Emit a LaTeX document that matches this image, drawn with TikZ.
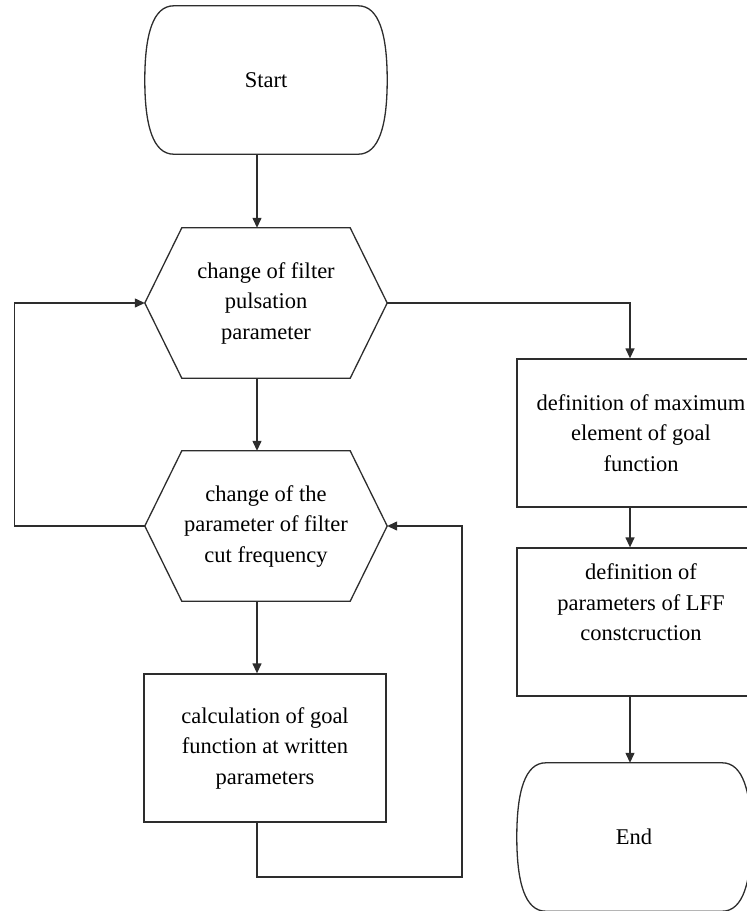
\documentclass[tikz,border=0pt]{standalone}
\usepackage{fontspec}
\setmainfont{Liberation Serif}
\usetikzlibrary{arrows.meta}
\definecolor{45_45_45}{RGB}{45, 45, 45}

% outlines drawn round plain (undrawn) nodes
\newcommand{\hexframe}[1]{%
    \draw[shapeline] (#1.west) -- ([xshift=37pt]#1.north west) -- ([xshift=-37pt]#1.north east)
        -- (#1.east) -- ([xshift=-37pt]#1.south east) -- ([xshift=37pt]#1.south west) -- cycle;}
\newcommand{\termframe}[1]{%
    \draw[shapeline] ([xshift=29pt]#1.north west) -- ([xshift=-29pt]#1.north east)
        .. controls ([xshift=-8pt]#1.north east) and ([yshift=45pt]#1.east) .. (#1.east)
        .. controls ([yshift=-45pt]#1.east) and ([xshift=-8pt]#1.south east) .. ([xshift=-29pt]#1.south east)
        -- ([xshift=29pt]#1.south west)
        .. controls ([xshift=8pt]#1.south west) and ([yshift=-45pt]#1.west) .. (#1.west)
        .. controls ([yshift=45pt]#1.west) and ([xshift=8pt]#1.north west) .. ([xshift=29pt]#1.north west)
        -- cycle;}

\begin{document}
\begin{tikzpicture}[
        x=1pt, y=1pt,
        font=\fontsize{22.5}{30.5}\selectfont,
        every node/.style={align=center, inner sep=0pt, text=black},
        shapeline/.style={draw=45_45_45, line width=1.3pt},
        block/.style={
            shapeline,
            minimum width=242pt,
            minimum height=148pt
        },
        hexbox/.style={minimum width=242pt, minimum height=150pt},
        term/.style={minimum width=242pt, minimum height=148pt},
        link/.style={draw=45_45_45, line width=1.3pt},
        flow/.style={link, -{Triangle[length=10pt,width=9pt]}}
    ]

    \clip (0,0) rectangle (747,-911);

    \coordinate (spine) at (257,0);
    \coordinate (branch) at (630,0);
    \coordinate (backr) at (462,-877);

    \node[term] (start) at (266,-80) {Start};
    \node[hexbox] (pulse) at (266,-303) {change of filter\\pulsation\\parameter};
    \node[hexbox] (cut) at (266,-526) {change of the\\parameter of filter\\cut frequency};
    \node[block] (goal) at (265,-748) {calculation of goal\\function at written\\parameters};

    \node[block, minimum width=248pt] (maxel) at (641,-433) {definition of maximum\\element of goal\\function};
    \node[block, minimum width=248pt] (lff) at (641,-622) {definition of\\parameters of LFF\\constcruction\\\strut};
    \node[term, minimum width=234pt] (end) at (634,-837) {End};

    \termframe{start}
    \termframe{end}
    \hexframe{pulse}
    \hexframe{cut}

    \draw[flow] (start.south -| spine) -- (pulse.north -| spine);
    \draw[flow] (pulse.south -| spine) -- (cut.north -| spine);
    \draw[flow] (cut.south -| spine) -- (goal.north -| spine);
    \draw[flow] (cut.west) -- ++(-130,0) |- (pulse.west);
    \draw[flow] (goal.south -| spine) |- (backr) |- (cut.east);

    \draw[flow] (pulse.east) -| (maxel.north -| branch);
    \draw[flow] (maxel.south -| branch) -- (lff.north -| branch);
    \draw[flow] (lff.south -| branch) -- (end.north -| branch);
\end{tikzpicture}
\end{document}
